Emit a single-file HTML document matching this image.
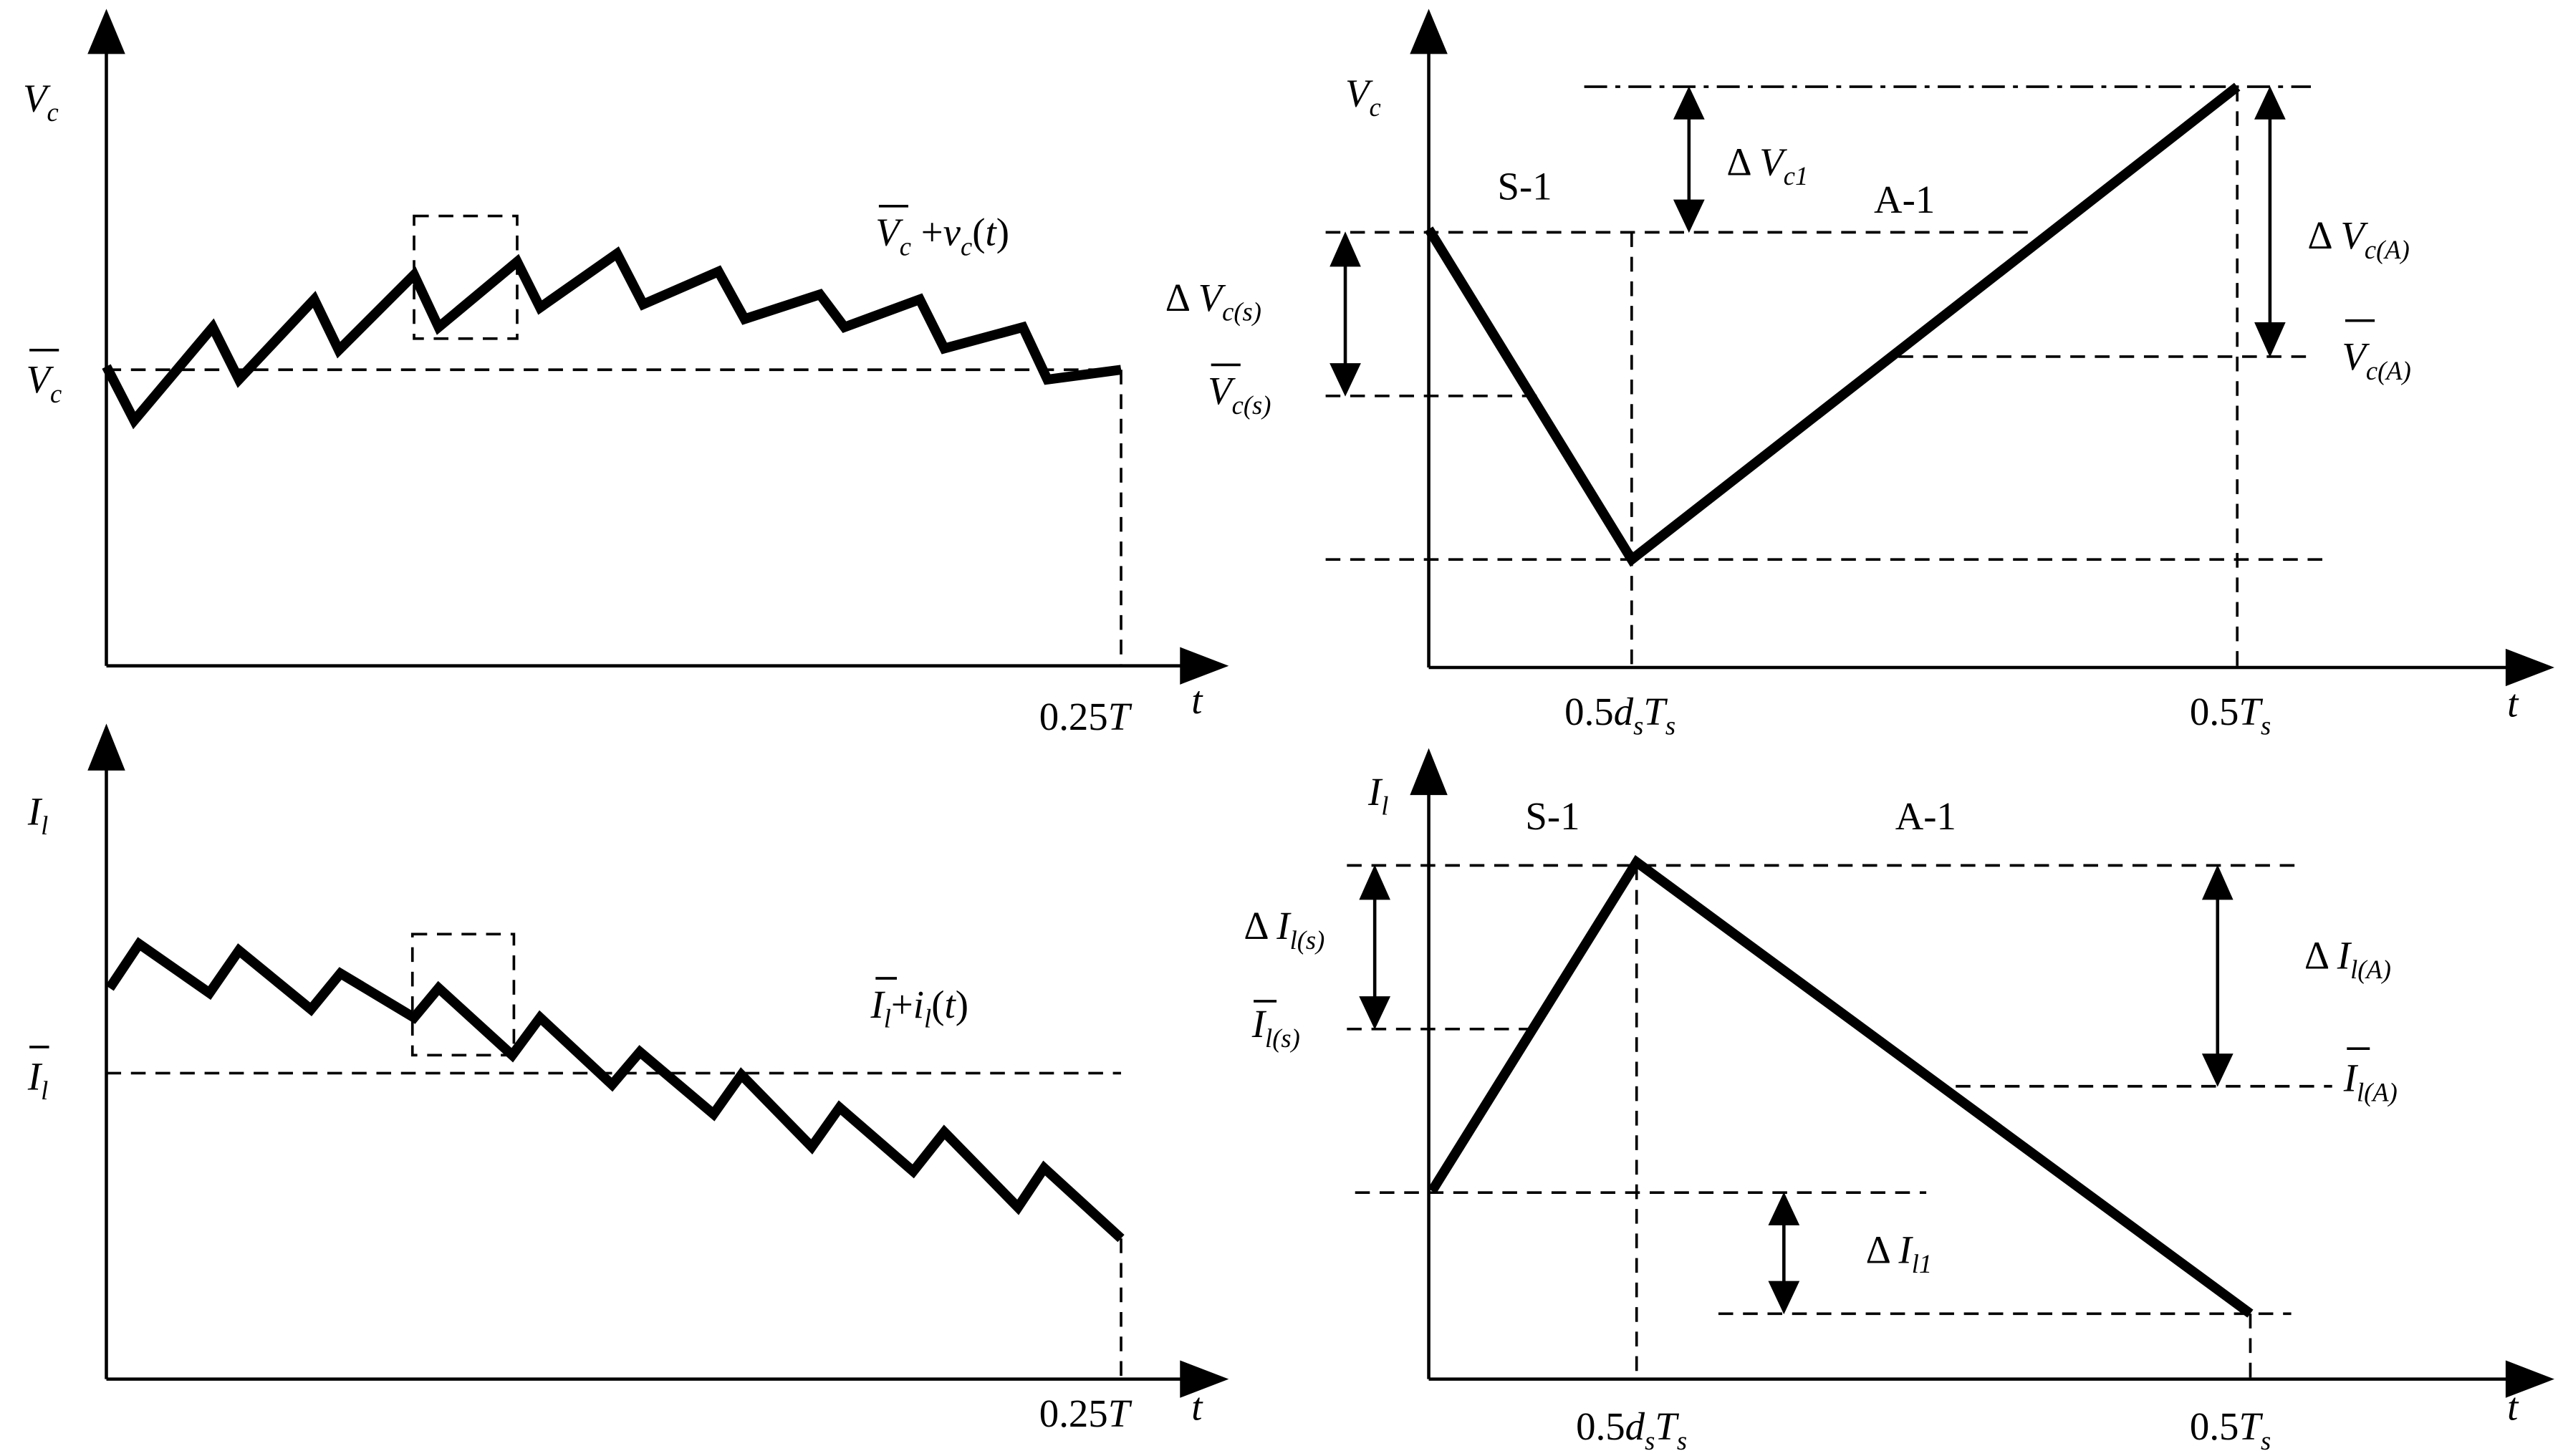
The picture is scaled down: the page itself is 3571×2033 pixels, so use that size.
<!DOCTYPE html>
<html><head><style>html,body{margin:0;padding:0;background:#fff}svg{display:block}</style></head>
<body>
<svg width="3571" height="2033" viewBox="0 0 1563 890" preserveAspectRatio="none" xmlns="http://www.w3.org/2000/svg" font-family="Liberation Serif, serif" font-size="24">
<g stroke="#000" stroke-width="2" fill="none">
<path d="M65,407 V30"/><path d="M55,32 L65,8 L75,32 z" fill="#000"/>
<path d="M65,407 H725"/><path d="M722,397 L748,407 L722,417 z" fill="#000"/>
<path d="M65,843 V467"/><path d="M55,470 L65,445 L75,470 z" fill="#000"/>
<path d="M65,843 H725"/><path d="M722,833 L748,843 L722,853 z" fill="#000"/>
<path d="M873,408 V30"/><path d="M863,32 L873,8 L883,32 z" fill="#000"/>
<path d="M873,408 H1535"/><path d="M1532,398 L1558,408 L1532,418 z" fill="#000"/>
<path d="M873,843 V482"/><path d="M863,485 L873,460 L883,485 z" fill="#000"/>
<path d="M873,843 H1535"/><path d="M1532,833 L1558,843 L1532,853 z" fill="#000"/>
</g>
<g stroke="#000" stroke-width="1.6" fill="none" stroke-dasharray="9,6">
<path d="M65,226 H685 M685,226 V407"/>
<rect x="253" y="132" width="63" height="75"/>
<path d="M65,656 H685 M685,757 V843"/>
<rect x="252" y="571" width="62" height="74"/>
<path d="M810,142 H1240 M810,242 H940 M810,342 H1420 M1160,218 H1412 M997,142 V408 M1367,53 V408"/>
<path d="M823,529 H1408 M823,629 H940 M1195,664 H1425 M828,729 H1177 M1050,803 H1400 M1000,529 V843 M1375,803 V843"/>
</g>
<path d="M968,53 H1412" stroke="#000" stroke-width="1.6" stroke-dasharray="14,5,3,5"/>
<g stroke="#000" stroke-width="6" fill="none" stroke-linejoin="miter">
<polyline points="65,224 82,257 130,200 146,232 192,183 207,214 253,168 268,200 316,160 330,188 377,155 393,186 439,166 455,195 501,180 516,200 562,183 577,213 625,200 640,232 685,226"/>
<polyline points="67,604 85,577 128,607 146,581 190,617 208,595 253,622 268,604 313,645 330,622 374,663 391,643 436,681 453,657 496,701 513,677 558,716 577,692 622,738 638,714 685,757"/>
<polyline points="873,140 997,342 1367,53"/>
<polyline points="875,728 1000,527 1375,803"/>
</g>
<g stroke="#000" stroke-width="2" fill="#000">
<path d="M1032,70 V125"/><path d="M1024,72 L1032,55 L1040,72 z M1024,123 L1032,140 L1040,123 z"/>
<path d="M822,160 V225"/><path d="M814,162 L822,144 L830,162 z M814,223 L822,240 L830,223 z"/>
<path d="M1387,70 V200"/><path d="M1379,72 L1387,55 L1395,72 z M1379,198 L1387,216 L1395,198 z"/>
<path d="M840,547 V612"/><path d="M832,549 L840,531 L848,549 z M832,610 L840,627 L848,610 z"/>
<path d="M1355,547 V647"/><path d="M1347,549 L1355,531 L1363,549 z M1347,645 L1355,662 L1363,645 z"/>
<path d="M1090,746 V786"/><path d="M1082,748 L1090,731 L1098,748 z M1082,784 L1090,801 L1098,784 z"/>
</g>
<g stroke="#000" stroke-width="1.6">
<path d="M18,214 H36 M18,640 H30 M537,126 H555 M535,598 H548 M740,223 H758 M1433,196 H1451 M766,612 H780 M1434,641 H1448"/>
</g>
<g fill="#000">
<text x="14" y="68" font-style="italic">V<tspan font-size="16" dy="6">c</tspan></text>
<text x="16" y="240" font-style="italic">V<tspan font-size="16" dy="6">c</tspan></text>
<text x="535" y="150"><tspan font-style="italic">V</tspan><tspan font-size="16" dy="6" font-style="italic">c</tspan><tspan dy="-6"> +</tspan><tspan font-style="italic">v</tspan><tspan font-size="16" dy="6" font-style="italic">c</tspan><tspan dy="-6">(</tspan><tspan font-style="italic">t</tspan>)</text>
<text x="635" y="446">0.25<tspan font-style="italic">T</tspan></text>
<text x="728" y="436" font-style="italic">t</text>
<text x="17" y="504" font-style="italic">I<tspan font-size="16" dy="6">l</tspan></text>
<text x="17" y="666" font-style="italic">I<tspan font-size="16" dy="6">l</tspan></text>
<text x="532" y="622"><tspan font-style="italic">I</tspan><tspan font-size="16" dy="6" font-style="italic">l</tspan><tspan dy="-6">+</tspan><tspan font-style="italic">i</tspan><tspan font-size="16" dy="6" font-style="italic">l</tspan><tspan dy="-6">(</tspan><tspan font-style="italic">t</tspan>)</text>
<text x="635" y="872">0.25<tspan font-style="italic">T</tspan></text>
<text x="728" y="868" font-style="italic">t</text>
<text x="822" y="65" font-style="italic">V<tspan font-size="16" dy="6">c</tspan></text>
<text x="915" y="122">S-1</text>
<text x="1145" y="130">A-1</text>
<text x="1055" y="107">Δ <tspan font-style="italic">V<tspan font-size="16" dy="6">c1</tspan></tspan></text>
<text x="712" y="190">Δ <tspan font-style="italic">V<tspan font-size="16" dy="6">c(s)</tspan></tspan></text>
<text x="738" y="247" font-style="italic">V<tspan font-size="16" dy="6">c(s)</tspan></text>
<text x="1410" y="152">Δ <tspan font-style="italic">V<tspan font-size="16" dy="6">c(A)</tspan></tspan></text>
<text x="1431" y="226" font-style="italic">V<tspan font-size="16" dy="6">c(A)</tspan></text>
<text x="956" y="443">0.5<tspan font-style="italic">d<tspan font-size="16" dy="6">s</tspan><tspan dy="-6">T</tspan><tspan font-size="16" dy="6">s</tspan></tspan></text>
<text x="1338" y="443">0.5<tspan font-style="italic">T<tspan font-size="16" dy="6">s</tspan></tspan></text>
<text x="1532" y="438" font-style="italic">t</text>
<text x="836" y="492" font-style="italic">I<tspan font-size="16" dy="6">l</tspan></text>
<text x="932" y="507">S-1</text>
<text x="1158" y="507">A-1</text>
<text x="760" y="574">Δ <tspan font-style="italic">I<tspan font-size="16" dy="6">l(s)</tspan></tspan></text>
<text x="765" y="634" font-style="italic">I<tspan font-size="16" dy="6">l(s)</tspan></text>
<text x="1408" y="592">Δ <tspan font-style="italic">I<tspan font-size="16" dy="6">l(A)</tspan></tspan></text>
<text x="1432" y="667" font-style="italic">I<tspan font-size="16" dy="6">l(A)</tspan></text>
<text x="1140" y="772">Δ <tspan font-style="italic">I<tspan font-size="16" dy="6">l1</tspan></tspan></text>
<text x="963" y="880">0.5<tspan font-style="italic">d<tspan font-size="16" dy="6">s</tspan><tspan dy="-6">T</tspan><tspan font-size="16" dy="6">s</tspan></tspan></text>
<text x="1338" y="880">0.5<tspan font-style="italic">T<tspan font-size="16" dy="6">s</tspan></tspan></text>
<text x="1532" y="868" font-style="italic">t</text>
</g>
</svg>
</body></html>
